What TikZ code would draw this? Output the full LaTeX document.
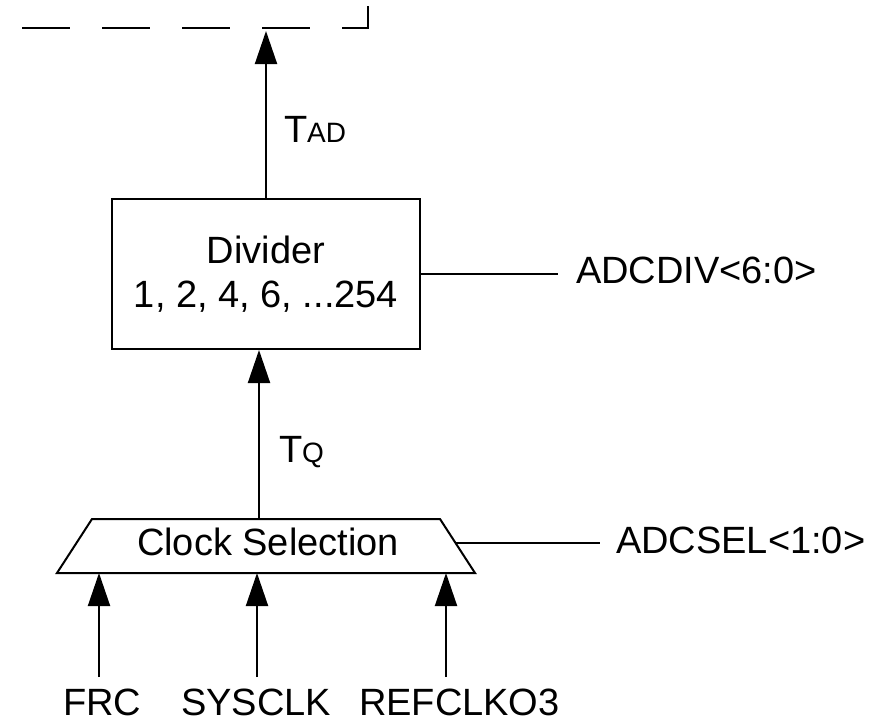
\documentclass[tikz,border=0pt]{standalone}
\usepackage{fontspec}
\setmainfont{Liberation Sans}
\usetikzlibrary{arrows.meta}
\begin{document}
\begin{tikzpicture}[x=1pt,y=-1pt, line width=2pt,
  conn/.style={-{Triangle[length=33pt,width=22pt]}},
  lbl/.style={font=\fontsize{38}{44}\selectfont, inner sep=0pt},
  sub/.style={font=\fontsize{28}{30}\selectfont}]
\useasboundingbox (0,0) rectangle (877,720);
% dashed frame
\coordinate (d1) at (22,28);
\coordinate (d2) at (368,28);
\coordinate (d3) at (368,0);
\draw[dash pattern=on 48pt off 32pt] (d1) -- (d2) -- (d3);
\coordinate (adcin) at (266,31);
% divider
\node[draw, lbl, minimum width=308pt, minimum height=150pt, align=center] (div) at (266,274) {Divider\\1, 2, 4, 6, ...254};
\draw[conn] (div.north) -- (adcin);
\node[lbl, anchor=base west] (tad) at (283,142) {T{\fontsize{28}{30}\selectfont AD}};
\coordinate (divr) at (558,274);
\draw (div.east) -- (divr);
\node[lbl, anchor=base west] (adcdiv) at (575,283) {ADCDIV<6:0>};
% clock selection trapezoid
\coordinate (cstl) at (92,519);
\coordinate (cstr) at (440,519);
\coordinate (csbr) at (475,573);
\coordinate (csbl) at (57,573);
\draw[line join=miter] (cstl) -- (cstr) -- (csbr) -- (csbl) -- cycle;
\node[lbl, anchor=base] (cs) at (268,555) {Clock Selection};
\coordinate (cstop) at (259,519);
\draw[conn] (cstop) -- (cstop |- div.south);
\node[lbl, anchor=base west] (tq) at (278,462) {T{\fontsize{28}{30}\selectfont Q}};
\coordinate (csr) at (456,543);
\coordinate (csrend) at (600,543);
\draw (csr) -- (csrend);
\node[lbl, anchor=base west] (adcsel) at (615,553) {ADCSEL<1:0>};
% inputs
\node[lbl, anchor=base west] (frc) at (62,715) {FRC};
\node[lbl, anchor=base west] (sys) at (180,715) {SYSCLK};
\node[lbl, anchor=base west] (ref) at (358,715) {REFCLKO3};
\coordinate (in1) at (99,677);
\coordinate (in2) at (257,677);
\coordinate (in3) at (446,677);
\draw[conn] (in1) -- (in1 |- csbl);
\draw[conn] (in2) -- (in2 |- csbl);
\draw[conn] (in3) -- (in3 |- csbl);
\end{tikzpicture}
\end{document}
